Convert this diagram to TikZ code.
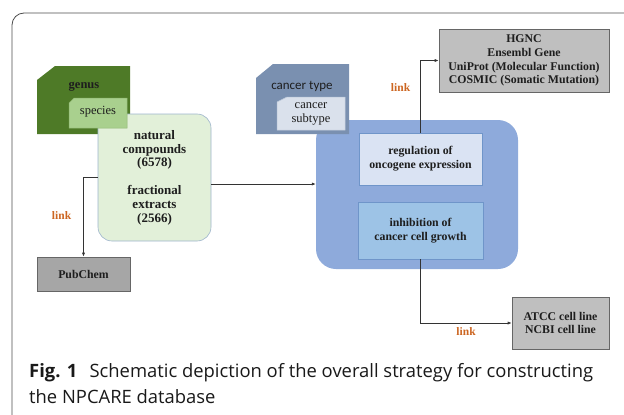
\documentclass[tikz,border=0pt]{standalone}
\usepackage{fontspec}
\setmainfont{Liberation Serif}
\newfontfamily\capfont{Open Sans}
\newfontfamily\calfont{Carlito}
\usepackage{tikz}
\usetikzlibrary{arrows.meta, positioning}
\definecolor{npgenus}{RGB}{78,122,39}
\definecolor{npspecies}{RGB}{169,208,142}
\definecolor{npnat}{RGB}{226,240,217}
\definecolor{npnatline}{RGB}{157,180,204}
\definecolor{nptype}{RGB}{122,144,176}
\definecolor{npsub}{RGB}{218,225,236}
\definecolor{npblue}{RGB}{142,170,219}
\definecolor{npreg}{RGB}{218,227,243}
\definecolor{npinh}{RGB}{157,195,230}
\definecolor{npboxline}{RGB}{111,149,201}
\definecolor{nplink}{RGB}{204,102,34}
\definecolor{nptext}{RGB}{30,30,30}

\begin{document}
\begin{tikzpicture}[
  x=1pt, y=-1pt,
  every node/.style={font=\fontsize{11.8}{13.8}\selectfont\bfseries, text=nptext,
                     align=center, inner sep=0pt},
  natbox/.style={rectangle, rounded corners=14pt, draw=npnatline, fill=npnat,
                 line width=0.6pt, font=\fontsize{13}{13.8}\selectfont\bfseries},
  bluebox/.style={rectangle, rounded corners=20pt, fill=npblue},
  inner/.style={rectangle, draw=npboxline, line width=0.6pt},
  greybox/.style={rectangle, draw=black!60, fill=black!25, line width=0.7pt},
  arr/.style={-{Latex[length=4pt,width=3.2pt]}, line width=0.7pt, color=black!80},
  linklbl/.style={font=\fontsize{11.5}{13}\selectfont\bfseries, text=nplink},
  plain/.style={font=\fontsize{12.5}{14}\selectfont},
]
\useasboundingbox (0,0) rectangle (624,415);

% outer frame
\draw[black!70, line width=0.8pt, rounded corners=12pt] (12,415) -- (12,13) -- (624,13);

% natural products side
\fill[npgenus] (37,80) -- (55,66) -- (130,66) -- (130,134) -- (37,134) -- cycle;
\node[natbox, minimum width=113, minimum height=127] (nat) at (154.5,177.5)
  {natural\\compounds\\(6578)\\[13.8pt]fractional\\extracts\\(2566)};
\filldraw[fill=npspecies, draw=npspecies!70!npgenus, line width=0.5pt]
  (69,103) -- (74,98) -- (127,98) -- (127,128) -- (69,128) -- cycle;
\node[font=\fontsize{12.5}{14}\selectfont\bfseries] (genus) at (84,87) {genus};
\node[plain] (species) at (98,112) {species};

\node[greybox, fill=black!35, minimum width=93, minimum height=34] (pub) at (83.5,274) {PubChem};

% cancer side
\node[bluebox, minimum width=202, minimum height=149] (blue) at (417,194.5) {};
\fill[nptype] (256,78) -- (273,64) -- (349,64) -- (349,134) -- (256,134) -- cycle;
\filldraw[fill=npsub, draw=npsub!70!nptype, line width=0.5pt]
  (277,102) -- (287,97) -- (345,97) -- (345,130) -- (277,130) -- cycle;
\node[font=\calfont\fontsize{13}{14}\selectfont] (ctype) at (302,86) {cancer type};
\node[plain] (csub) at (311,113.5) {cancer\\subtype};

\node[inner, fill=npreg, minimum width=123, minimum height=52] (reg) at (420.5,159)
  {regulation of\\oncogene expression};
\node[inner, fill=npinh, minimum width=125, minimum height=57] (inh) at (420.5,230.5)
  {inhibition of\\cancer cell growth};

\node[greybox, minimum width=170, minimum height=63] (hgnc) at (524,60.5)
  {HGNC\\Ensembl Gene\\UniProt (Molecular Function)\\COSMIC (Somatic Mutation)};
\node[greybox, minimum width=97, minimum height=52] (atcc) at (560.5,323)
  {ATCC cell line\\NCBI cell line};

% connectors
\draw[arr] (nat.west) -| node[linklbl, pos=0.74, left=12pt] {link} (pub.north);
\draw[arr] ([yshift=-6.5pt]nat.east) -- ([yshift=-6.5pt]nat.east -| blue.west);
\draw[arr] (reg.north) |- node[linklbl, pos=0.31, left=10pt] {link} (hgnc.west);
\draw[arr] (inh.south) |- node[linklbl, pos=0.75, below=4pt] {link} (atcc.west);

% caption
\node[anchor=base west, font=\capfont\fontsize{18.4}{22}\selectfont, text=black!90] (cap1) at (29,377)
  {\textbf{Fig. 1}\hspace{0.4em} Schematic depiction of the overall strategy for constructing};
\node[anchor=base west, font=\capfont\fontsize{18.4}{22}\selectfont, text=black!90] (cap2) at (29,403)
  {the NPCARE database};
\end{tikzpicture}
\end{document}
